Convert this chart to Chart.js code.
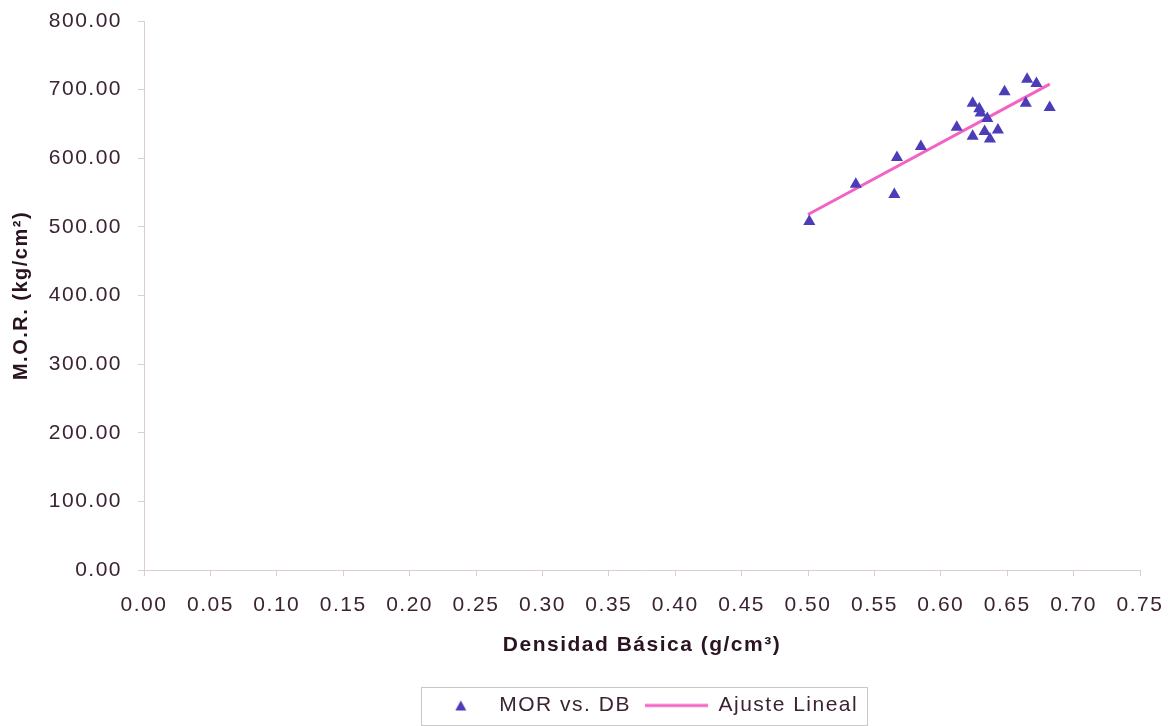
<!DOCTYPE html>
<html>
<head>
<meta charset="utf-8">
<script src="https://cdn.jsdelivr.net/npm/chart.js@4/dist/chart.umd.min.js"></script>
<style>
  html, body { margin: 0; padding: 0; background: #fff; }
  #wrap { width: 1168px; height: 726px; }
</style>
</head>
<body>
<div id="wrap"><canvas id="mor-db"></canvas></div>
<script>
// densidad basica (g/cm3) and MOR (kg/cm2)
const densidad = [0.501, 0.536, 0.565, 0.567, 0.585, 0.612, 0.624, 0.624, 0.629, 0.630,
                  0.635, 0.633, 0.637, 0.643, 0.648, 0.665, 0.672, 0.664, 0.682];
const mor = [508, 562, 547, 601, 617, 645, 680, 632, 672, 666,
             658, 639, 628, 641, 697, 715, 709, 680, 674];
// end points of the fitted line
const ajusteX = [0.500, 0.682];
const ajusteY = [518, 708];

const textColor = "#3b2333";
const axisColor = "#dcccd4";

Chart.defaults.font.family = "'Liberation Sans', Arial, sans-serif";
Chart.defaults.color = textColor;

// small marker images for the legend (triangle / line)
function legendTriangle() {
  const c = document.createElement("canvas");
  c.width = 63; c.height = 14;
  const g = c.getContext("2d");
  g.fillStyle = "#4b3cb8";
  g.beginPath();
  g.moveTo(35, 2); g.lineTo(40.5, 12); g.lineTo(29.5, 12);
  g.closePath(); g.fill();
  return c;
}
function legendLine() {
  const c = document.createElement("canvas");
  c.width = 63; c.height = 14;
  const g = c.getContext("2d");
  g.strokeStyle = "#f263c3";
  g.lineWidth = 3;
  g.beginPath(); g.moveTo(0, 7); g.lineTo(63, 7); g.stroke();
  return c;
}

// the original text is spaced out a bit
const spacing = {
  id: "spacing",
  beforeUpdate(chart) { chart.ctx.letterSpacing = "1.5px"; },
  beforeLayout(chart) { chart.ctx.letterSpacing = "1.5px"; },
  beforeDraw(chart) { chart.ctx.letterSpacing = "1.5px"; }
};

// grey frame round the legend
const legendFrame = {
  id: "legendFrame",
  afterDraw(chart) {
    const boxes = chart.legend.legendHitBoxes;
    if (!boxes || !boxes.length) return;
    let l = Infinity, r = -Infinity, t = Infinity, b = -Infinity;
    boxes.forEach(h => {
      l = Math.min(l, h.left); r = Math.max(r, h.left + h.width);
      t = Math.min(t, h.top); b = Math.max(b, h.top + h.height);
    });
    const mid = (t + b) / 2;
    const ctx = chart.ctx;
    ctx.save();
    ctx.strokeStyle = "#c8c8c8";
    ctx.lineWidth = 1;
    ctx.strokeRect(Math.round(l - 5) + 0.5, Math.round(mid - 19) + 0.5, Math.round(r - l + 14), 38);
    ctx.restore();
  }
};

const points = densidad.map((d, i) => ({ x: d, y: mor[i] }));
const ajuste = ajusteX.map((d, i) => ({ x: d, y: ajusteY[i] }));

new Chart(document.getElementById("mor-db").getContext("2d"), {
  type: "scatter",
  data: {
    datasets: [
      {
        label: "MOR vs. DB",
        data: points,
        pointStyle: "triangle",
        pointRadius: 7,
        pointHoverRadius: 7,
        backgroundColor: "#4b3cb8",
        borderColor: "#4b3cb8",
        borderWidth: 0,
        order: 1
      },
      {
        label: "Ajuste Lineal",
        data: ajuste,
        type: "line",
        showLine: true,
        pointRadius: 0,
        borderColor: "#f263c3",
        backgroundColor: "#f263c3",
        borderWidth: 3,
        order: 2
      }
    ]
  },
  options: {
    responsive: true,
    maintainAspectRatio: false,
    animation: false,
    layout: { padding: { left: 0, right: 28, top: 21, bottom: 0 } },
    plugins: {
      tooltip: { enabled: false },
      legend: {
        position: "bottom",
        fullSize: false,
        labels: {
          usePointStyle: true,
          pointStyleWidth: 63,
          padding: 14,
          font: { size: 21 },
          color: textColor,
          generateLabels(chart) {
            const items = Chart.defaults.plugins.legend.labels.generateLabels(chart);
            items[0].pointStyle = legendTriangle();
            items[1].pointStyle = legendLine();
            return items;
          }
        }
      }
    },
    scales: {
      x: {
        type: "linear",
        min: 0,
        max: 0.75,
        afterFit(s) { s.height = 111; s.paddingLeft = 0; s.paddingRight = 0; },
        border: { color: axisColor, width: 1 },
        grid: { drawOnChartArea: false, color: axisColor, tickLength: 6 },
        ticks: {
          stepSize: 0.05,
          padding: 17,
          maxRotation: 0,
          autoSkip: false,
          font: { size: 21 },
          callback: v => v.toFixed(2)
        },
        title: {
          display: true,
          text: "Densidad Básica (g/cm³)",
          font: { size: 21, weight: "bold" },
          color: "#2a1421",
          padding: { top: 4, bottom: 23 }
        }
      },
      y: {
        min: 0,
        max: 800,
        afterFit(s) { s.width = 144; s.paddingTop = 0; s.paddingBottom = 0; },
        border: { color: axisColor, width: 1 },
        grid: { drawOnChartArea: false, color: axisColor, tickLength: 6 },
        ticks: {
          stepSize: 100,
          padding: 16,
          font: { size: 21 },
          callback: v => v.toFixed(2)
        },
        title: {
          display: true,
          text: "M.O.R. (kg/cm²)",
          font: { size: 20, weight: "bold" },
          color: "#2a1421",
          padding: { top: 9, bottom: 0 }
        }
      }
    }
  },
  plugins: [spacing, legendFrame]
});
</script>
</body>
</html>
